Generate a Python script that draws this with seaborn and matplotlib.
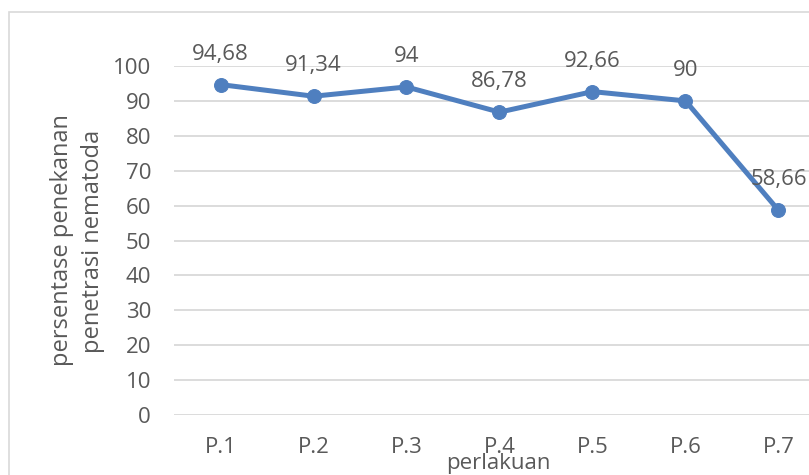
import matplotlib
matplotlib.use("Agg")
import matplotlib.pyplot as plt
import seaborn as sns
import pandas as pd
from matplotlib.patches import Rectangle

# Treatment labels and nematode penetration suppression (%)
perlakuan = ["P.1", "P.2", "P.3", "P.4", "P.5", "P.6", "P.7"]
persentase = [94.68, 91.34, 94.0, 86.78, 92.66, 90.0, 58.66]
label_teks = ["94,68", "91,34", "94", "86,78", "92,66", "90", "58,66"]
y_ticks = [0, 10, 20, 30, 40, 50, 60, 70, 80, 90, 100]

sns.set_theme(style="white")
plt.rcParams["font.family"] = ["Open Sans", "DejaVu Sans"]

TEXT = "#595959"
GRID = "#d9d9d9"
LINE = "#4F7FBF"
FS = 16

df = pd.DataFrame({"perlakuan": perlakuan, "persentase": persentase})

fig = plt.figure(figsize=(8.09, 4.75), dpi=100)
fig.patch.set_facecolor("white")

# chart area outline
fig.patches.append(Rectangle((9 / 809, -0.1), 1.2, (475 - 12) / 475 + 0.1,
                             transform=fig.transFigure, fill=False,
                             edgecolor=GRID, linewidth=1.2))

ax = fig.add_axes([174 / 809, 60 / 475, 651 / 809, 349 / 475])
x = list(range(len(perlakuan)))
sns.lineplot(x=x, y=df["persentase"], ax=ax, color=LINE, linewidth=3.6,
             marker="o", markersize=10, markeredgecolor=LINE, zorder=3)

ax.set_xlim(-0.5, len(perlakuan) - 0.5)
ax.set_ylim(0, 100)
ax.set_yticks(y_ticks)
ax.set_xticks(x)
ax.set_xticklabels(perlakuan)
ax.grid(axis="y", color=GRID, linewidth=1.3)
ax.grid(axis="x", visible=False)
for s in ax.spines.values():
    s.set_visible(False)
ax.tick_params(axis="both", length=0, labelsize=FS, labelcolor=TEXT)
ax.tick_params(axis="y", pad=16.5)
ax.tick_params(axis="x", pad=16)
ax.set_xlabel("")
ax.set_ylabel("")

for xi, yi, t in zip(x, persentase, label_teks):
    ax.annotate(t, (xi, yi), xytext=(0, 22), textcoords="offset points",
                ha="center", va="center", fontsize=FS, color=TEXT)

fig.text(498 / 809, 1 - 463 / 475, "perlakuan", ha="center", va="center",
         fontsize=FS, color=TEXT)
fig.text(62 / 809, 1 - 240 / 475, "persentase penekanan", rotation=90,
         ha="center", va="center", fontsize=17, color=TEXT)
fig.text(93 / 809, 1 - 241 / 475, "penetrasi nematoda", rotation=90,
         ha="center", va="center", fontsize=17, color=TEXT)

fig.savefig("out.png", dpi=100)
